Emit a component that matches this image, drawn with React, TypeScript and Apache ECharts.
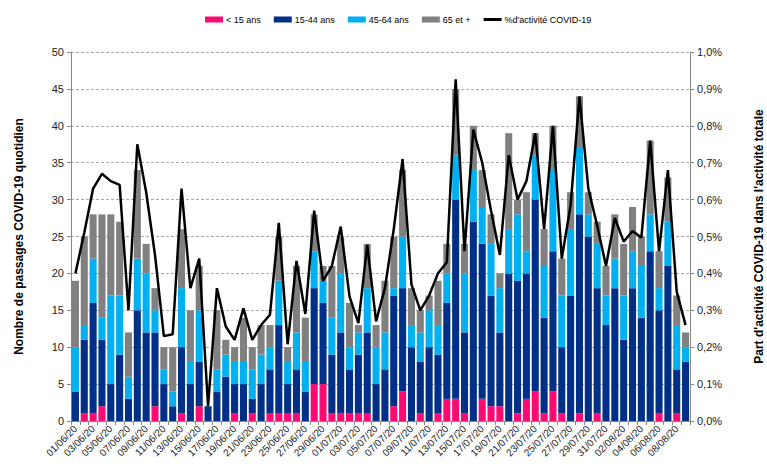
import React, { useEffect, useRef } from "react";
import * as echarts from "echarts";

const dates = [
  "01/06/20","02/06/20","03/06/20","04/06/20","05/06/20","06/06/20","07/06/20","08/06/20","09/06/20","10/06/20",
  "11/06/20","12/06/20","13/06/20","14/06/20","15/06/20","16/06/20","17/06/20","18/06/20","19/06/20","20/06/20",
  "21/06/20","22/06/20","23/06/20","24/06/20","25/06/20","26/06/20","27/06/20","28/06/20","29/06/20","30/06/20",
  "01/07/20","02/07/20","03/07/20","04/07/20","05/07/20","06/07/20","07/07/20","08/07/20","09/07/20","10/07/20",
  "11/07/20","12/07/20","13/07/20","14/07/20","15/07/20","16/07/20","17/07/20","18/07/20","19/07/20","20/07/20",
  "21/07/20","22/07/20","23/07/20","24/07/20","25/07/20","26/07/20","27/07/20","28/07/20","29/07/20","30/07/20",
  "31/07/20","01/08/20","02/08/20","03/08/20","04/08/20","05/08/20","06/08/20","07/08/20","08/08/20","09/08/20",
];

const under15 = [0,1,1,2,0,0,0,0,0,2, 0,0,1,0,2,0,0,0,1,0, 1,0,1,1,1,1,0,5,5,1, 1,1,1,1,0,0,2,4,0,1, 0,1,3,3,1,0,3,2,2,0, 1,3,4,1,4,1,0,1,0,1, 0,0,0,0,0,0,1,0,1,0];
const age15to44 = [4,10,15,9,5,9,3,15,12,10, 5,2,9,5,6,2,4,6,4,5, 2,5,6,12,4,6,4,13,11,8, 11,6,8,11,5,7,15,14,10,7, 10,8,13,27,11,27,21,15,10,20, 18,17,26,13,19,9,17,27,25,17, 13,18,11,18,14,23,14,21,6,8];
const age45to64 = [6,2,6,3,12,8,3,7,8,3, 2,2,8,3,7,0,3,3,3,3, 4,4,3,6,3,5,4,5,3,5, 8,3,3,6,5,5,1,7,3,4, 5,4,4,6,8,7,5,7,6,6, 9,3,6,7,11,7,9,9,3,6, 4,4,6,5,7,5,3,6,6,2];
const age65plus = [9,12,6,14,11,10,6,12,4,3, 3,6,8,7,6,0,8,2,2,6, 3,4,3,6,2,9,6,5,2,7, 5,6,1,6,3,7,7,9,5,3, 2,6,4,9,4,6,5,4,2,13, 2,8,3,5,6,5,5,7,3,3, 4,6,7,6,4,10,5,6,4,2];
const pctActivity = [0.40,0.51,0.63,0.67,0.65,0.64,0.30,0.75,0.62,0.45, 0.23,0.235,0.63,0.36,0.44,0.04,0.36,0.256,0.22,0.305, 0.22,0.26,0.288,0.537,0.208,0.434,0.29,0.57,0.38,0.42, 0.527,0.337,0.265,0.477,0.27,0.36,0.52,0.71,0.37,0.30, 0.34,0.40,0.43,0.926,0.46,0.79,0.70,0.57,0.45,0.72, 0.60,0.65,0.78,0.52,0.80,0.44,0.585,0.88,0.63,0.53, 0.42,0.55,0.486,0.515,0.497,0.76,0.46,0.68,0.35,0.26];

const FONT = "'Liberation Sans', Arial, sans-serif";

export default function App() {
  const ref = useRef<HTMLDivElement>(null);
  useEffect(() => {
    if (!ref.current) return;
    const chart = echarts.init(ref.current, undefined, { renderer: "svg" });
    const barBase = {
      type: "bar",
      stack: "total",
      barCategoryGap: "20%",
      yAxisIndex: 0,
    };
    chart.setOption({
      animation: false,
      textStyle: { fontFamily: FONT },
      legend: {
        top: 10,
        left: 200,
        itemWidth: 18,
        itemHeight: 6,
        itemGap: 13,
        textStyle: { fontSize: 9, color: "#000", fontFamily: FONT, padding: [0, 0, 0, -2] },
        data: [
          { name: "< 15 ans", icon: "rect" },
          { name: "15-44 ans", icon: "rect" },
          { name: "45-64 ans", icon: "rect" },
          { name: "65 et +", icon: "rect" },
          { name: "%d'activité COVID-19", icon: "path://M0,0 L18,0 L18,3 L0,3 Z" },
        ],
      },
      grid: { left: 71, right: 77, top: 52, bottom: 52, outerBoundsMode: "none", containLabel: false },
      xAxis: {
        type: "category",
        data: dates,
        axisLine: { lineStyle: { color: "#888" } },
        axisTick: { show: true, interval: 0, length: 4, lineStyle: { color: "#888" } },
        axisLabel: { interval: 1, rotate: 45, fontSize: 10, color: "#222", fontFamily: FONT, margin: 6 },
      },
      yAxis: [
        {
          type: "value",
          min: 0,
          max: 50,
          interval: 5,
          name: "Nombre de passages COVID-19 quotidien",
          nameLocation: "middle",
          nameGap: 46,
          nameTextStyle: { fontWeight: "bold", fontSize: 12, color: "#000", fontFamily: FONT },
          axisLine: { show: true, lineStyle: { color: "#888" } },
          axisTick: { show: true, length: 4, lineStyle: { color: "#888" } },
          axisLabel: { fontSize: 11, color: "#222", fontFamily: FONT, margin: 7 },
          splitLine: { lineStyle: { color: "#aaa", type: [3, 2] } },
        },
        {
          type: "value",
          min: 0,
          max: 1,
          interval: 0.1,
          position: "right",
          name: "Part d'activité COVID-19 dans l'activité totale",
          nameLocation: "middle",
          nameGap: 63,
          nameRotate: 90,
          nameTextStyle: { fontWeight: "bold", fontSize: 12, color: "#000", fontFamily: FONT },
          axisLine: { show: true, lineStyle: { color: "#888" } },
          axisTick: { show: true, length: 4, lineStyle: { color: "#888" } },
          axisLabel: {
            fontSize: 11,
            color: "#222",
            fontFamily: FONT,
            margin: 7,
            formatter: (v: number) => v.toFixed(1).replace(".", ",") + "%",
          },
          splitLine: { show: false },
        },
      ],
      series: [
        { ...barBase, name: "< 15 ans", data: under15, itemStyle: { color: "#FF0A73" } },
        { ...barBase, name: "15-44 ans", data: age15to44, itemStyle: { color: "#002F87" } },
        { ...barBase, name: "45-64 ans", data: age45to64, itemStyle: { color: "#00B0F0" } },
        { ...barBase, name: "65 et +", data: age65plus, itemStyle: { color: "#808080" } },
        {
          type: "line",
          name: "%d'activité COVID-19",
          yAxisIndex: 1,
          data: pctActivity,
          symbol: "none",
          lineStyle: { color: "#000", width: 2.5 },
          itemStyle: { color: "#000" },
        },
      ],
    });
    return () => chart.dispose();
  }, []);
  return (
    <div
      ref={ref}
      style={{ position: "fixed", left: 0, top: 0, width: 767, height: 473, background: "#fff" }}
    />
  );
}
